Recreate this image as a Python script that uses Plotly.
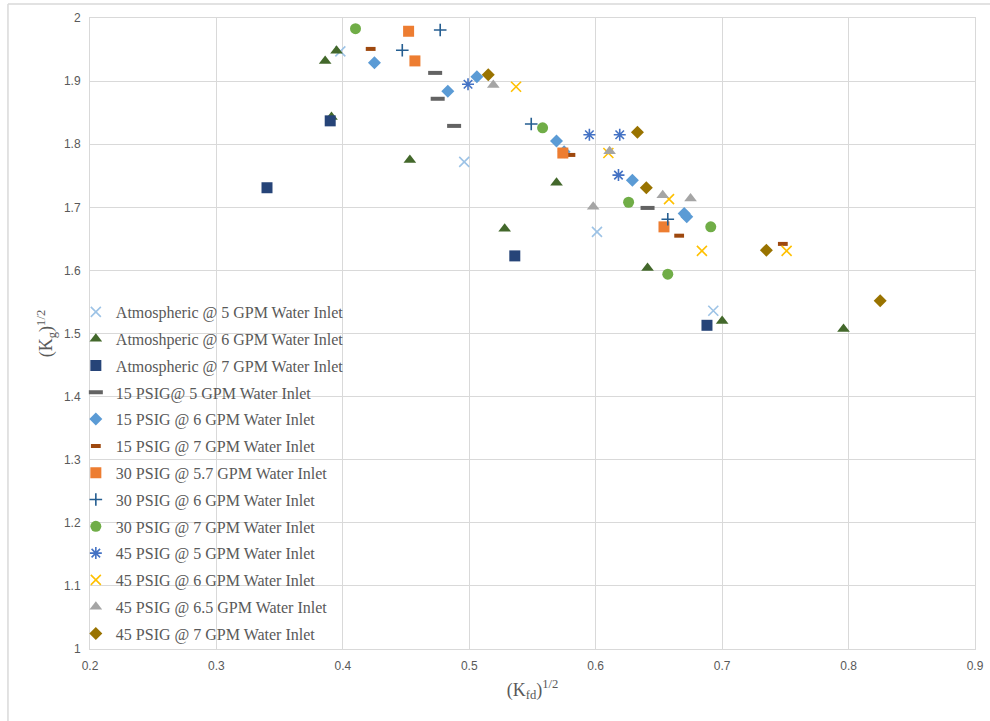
import plotly.graph_objects as go

# ---- data ----
names = [
    "Atmospheric @ 5 GPM Water Inlet",
    "Atmoshperic @ 6 GPM Water Inlet",
    "Atmospheric @ 7 GPM Water Inlet",
    "15 PSIG@ 5 GPM Water Inlet",
    "15 PSIG @ 6 GPM Water Inlet",
    "15 PSIG @ 7 GPM Water Inlet",
    "30 PSIG @ 5.7 GPM Water Inlet",
    "30 PSIG @ 6 GPM Water Inlet",
    "30 PSIG @ 7 GPM Water Inlet",
    "45 PSIG @ 5 GPM Water Inlet",
    "45 PSIG @ 6 GPM Water Inlet",
    "45 PSIG @ 6.5 GPM Water Inlet",
    "45 PSIG @ 7 GPM Water Inlet",
]

atm5_x = [0.398, 0.496, 0.601, 0.693]
atm5_y = [1.947, 1.772, 1.661, 1.536]

atm6_x = [0.386, 0.395, 0.391, 0.453, 0.569, 0.528, 0.641, 0.700, 0.796]
atm6_y = [1.932, 1.948, 1.843, 1.775, 1.739, 1.666, 1.604, 1.520, 1.507]

atm7_x = [0.390, 0.340, 0.536, 0.688]
atm7_y = [1.837, 1.731, 1.623, 1.513]

p15g5_x = [0.473, 0.475, 0.488, 0.641]
p15g5_y = [1.913, 1.872, 1.829, 1.699]

p15g6_x = [0.425, 0.483, 0.506, 0.569, 0.575, 0.629, 0.670, 0.672]
p15g6_y = [1.929, 1.884, 1.907, 1.805, 1.788, 1.743, 1.690, 1.685]

p15g7_x = [0.422, 0.580, 0.666, 0.748]
p15g7_y = [1.951, 1.783, 1.655, 1.642]

p30g57_x = [0.452, 0.457, 0.574, 0.654]
p30g57_y = [1.979, 1.932, 1.786, 1.669]

p30g6_x = [0.477, 0.447, 0.549, 0.657]
p30g6_y = [1.981, 1.949, 1.832, 1.681]

p30g7_x = [0.410, 0.558, 0.626, 0.691, 0.657]
p30g7_y = [1.983, 1.826, 1.708, 1.669, 1.594]

p45g5_x = [0.499, 0.595, 0.619, 0.618]
p45g5_y = [1.895, 1.815, 1.815, 1.751]

p45g6_x = [0.537, 0.610, 0.658, 0.684, 0.751]
p45g6_y = [1.891, 1.786, 1.713, 1.631, 1.631]

p45g65_x = [0.519, 0.611, 0.598, 0.653, 0.675]
p45g65_y = [1.894, 1.789, 1.701, 1.719, 1.714]

p45g7_x = [0.515, 0.633, 0.640, 0.735, 0.825]
p45g7_y = [1.910, 1.819, 1.731, 1.632, 1.552]

xs = [atm5_x, atm6_x, atm7_x, p15g5_x, p15g6_x, p15g7_x, p30g57_x, p30g6_x,
      p30g7_x, p45g5_x, p45g6_x, p45g65_x, p45g7_x]
ys = [atm5_y, atm6_y, atm7_y, p15g5_y, p15g6_y, p15g7_y, p30g57_y, p30g6_y,
      p30g7_y, p45g5_y, p45g6_y, p45g65_y, p45g7_y]

x_ticks = [0.2, 0.3, 0.4, 0.5, 0.6, 0.7, 0.8, 0.9]
y_ticks = [1, 1.1, 1.2, 1.3, 1.4, 1.5, 1.6, 1.7, 1.8, 1.9, 2]

# ---- styles ----
styles = [
    dict(symbol="x-thin-open", color="#9DC3E6", size=10, line=dict(width=1.6, color="#9DC3E6")),
    dict(symbol="triangle-up", color="#43682B", size=11, line=dict(width=0)),
    dict(symbol="square", color="#264478", size=11, line=dict(width=0)),
    dict(symbol="line-ew-open", color="#636363", size=10, line=dict(width=4, color="#636363")),
    dict(symbol="diamond", color="#5B9BD5", size=10, line=dict(width=0)),
    dict(symbol="line-ew-open", color="#9E480E", size=7, line=dict(width=4, color="#9E480E")),
    dict(symbol="square", color="#ED7D31", size=11, line=dict(width=0)),
    dict(symbol="cross-thin-open", color="#255E91", size=9, line=dict(width=1.6, color="#255E91")),
    dict(symbol="circle", color="#70AD47", size=11, line=dict(width=0)),
    dict(symbol="asterisk-open", color="#4472C4", size=10, line=dict(width=1.6, color="#4472C4")),
    dict(symbol="x-thin-open", color="#FFC000", size=10, line=dict(width=1.6, color="#FFC000")),
    dict(symbol="triangle-up", color="#A5A5A5", size=11, line=dict(width=0)),
    dict(symbol="diamond", color="#997300", size=10, line=dict(width=0)),
]

fig = go.Figure()
for i, (n, x, y, st) in enumerate(zip(names, xs, ys, styles)):
    fig.add_trace(go.Scatter(x=x, y=y, mode="markers", name=n, marker=st,
                             legendgroup="g%d" % i))

tick_font = dict(family="Liberation Sans, Arial, sans-serif", size=12, color="#595959")
axis_common = dict(showgrid=True, gridcolor="#D9D9D9", gridwidth=1, zeroline=False,
                   showline=True, linecolor="#D9D9D9", linewidth=1, mirror=True,
                   ticks="", tickfont=tick_font, automargin=False)

fig.update_layout(
    width=990, height=721,
    margin=dict(l=90, r=15, t=18, b=72),
    paper_bgcolor="white", plot_bgcolor="white",
    font=dict(family="Liberation Serif, Times New Roman, serif", color="#595959"),
    xaxis=dict(range=[0.2, 0.9], tickvals=x_ticks, ticktext=[str(v) for v in x_ticks],
               ticklabelstandoff=6,
               title=dict(text="(K<sub>fd</sub>)<sup>1/2</sup>",
                          font=dict(family="Liberation Serif, Times New Roman, serif", size=18, color="#595959"),
                          standoff=10),
               **axis_common),
    yaxis=dict(range=[1, 2], tickvals=y_ticks, ticktext=[("%g" % v) for v in y_ticks],
               ticklabelstandoff=6,
               title=dict(text="(K<sub>g</sub>)<sup>1/2</sup>",
                          font=dict(family="Liberation Serif, Times New Roman, serif", size=18, color="#595959"),
                          standoff=6),
               **axis_common),
    legend=dict(x=-0.016, y=0.561, xanchor="left", yanchor="top",
                bgcolor="rgba(0,0,0,0)",
                font=dict(family="Liberation Serif, Times New Roman, serif", size=16, color="#595959"),
                itemwidth=30, tracegroupgap=3),
    showlegend=True,
    shapes=[
        dict(type="line", xref="paper", yref="paper", x0=-0.0927, x1=1.1, y0=1.0222, y1=1.0222,
             line=dict(color="#D9D9D9", width=1.5)),
        dict(type="line", xref="paper", yref="paper", x0=-0.0927, x1=-0.0927, y0=-0.2, y1=1.0222,
             line=dict(color="#D9D9D9", width=1.5)),
    ],
)

fig.write_html("out.html")
